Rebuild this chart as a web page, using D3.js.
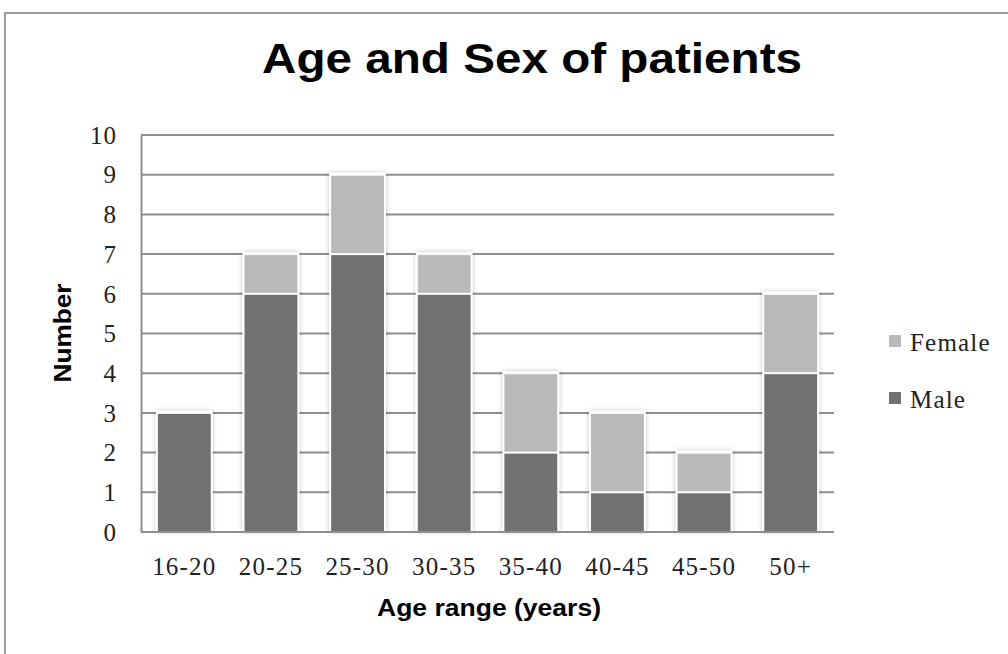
<!DOCTYPE html>
<html><head><meta charset="utf-8">
<script src="https://cdn.jsdelivr.net/npm/d3@7"></script>
<style>body{margin:0;background:#fff;} svg{display:block;}</style>
</head><body>
<svg id="chart" width="1008" height="654"></svg>
<script>
const categories = ["16-20","20-25","25-30","30-35","35-40","40-45","45-50","50+"];
const male = [3,6,7,6,2,1,1,4];
const female = [0,1,2,1,2,2,1,2];
const seriesNames = ["Male","Female"];
const yTicks = [0,1,2,3,4,5,6,7,8,9,10];

const svg = d3.select("#chart");
const colors = {Male:"#717171", Female:"#b9b9b9"};
const serif = "'Liberation Serif','DejaVu Serif',serif";
const sans = "'Liberation Sans',Arial,sans-serif";

// outer border
svg.append("path").attr("d","M1010,13 H5 V660").attr("fill","none").attr("stroke","#9a9a9a").attr("stroke-width",2);

const defs = svg.append("defs");
const f = defs.append("filter").attr("id","sh").attr("x","-20%").attr("y","-5%").attr("width","140%").attr("height","110%");
f.append("feGaussianBlur").attr("in","SourceAlpha").attr("stdDeviation",2.5).attr("result","b");
f.append("feComponentTransfer").attr("in","b").attr("result","b2").append("feFuncA").attr("type","linear").attr("slope",0.25);
const m = f.append("feMerge"); m.append("feMergeNode").attr("in","b2"); m.append("feMergeNode").attr("in","SourceGraphic");

const L=141, R=834, T=135, B=532;
const x = d3.scaleBand().domain(categories).range([L,R]).paddingInner(0.39).paddingOuter(0.195);
const y = d3.scaleLinear().domain([0,10]).range([B,T]);

// gridlines
svg.append("g").selectAll("line").data(yTicks.filter(d=>d>0)).join("line")
  .attr("x1",L).attr("x2",R).attr("y1",d=>y(d)).attr("y2",d=>y(d))
  .attr("stroke","#8e8e8e").attr("stroke-width",2);

// stacked bars
const data = categories.map((c,i)=>({cat:c, Male:male[i], Female:female[i]}));
const stack = d3.stack().keys(seriesNames)(data);
const gb = svg.append("g");
gb.selectAll("rect.bg").data(data).join("rect").attr("class","bg")
  .attr("x",d=>x(d.cat)-2).attr("width",x.bandwidth()+4)
  .attr("y",d=>y(d.Male+d.Female)-2).attr("height",d=>y(0)-y(d.Male+d.Female)+2)
  .attr("fill","#fff").attr("filter","url(#sh)");
stack.forEach(s=>{
  gb.selectAll(null).data(s.filter(d=>d[1]>d[0])).join("rect")
    .attr("x",d=>x(d.data.cat)).attr("width",x.bandwidth())
    .attr("y",d=>y(d[1])+1).attr("height",d=>y(d[0])-y(d[1])-2)
    .attr("fill",colors[s.key]);
});

// axes
const yAxis = d3.axisLeft(y).tickValues(yTicks).tickSize(0).tickPadding(24).tickFormat(d3.format("d"));
const gy = svg.append("g").attr("transform",`translate(${L},0)`).call(yAxis);
gy.select(".domain").attr("stroke","#8e8e8e").attr("stroke-width",2);
gy.selectAll("text").attr("font-family",serif).attr("font-size",25).attr("fill","#222").attr("dy","0.33em").attr("letter-spacing","1px");

const xAxis = d3.axisBottom(x).tickSize(0);
const gx = svg.append("g").attr("transform",`translate(0,${B})`).call(xAxis);
gx.select(".domain").attr("stroke","#8e8e8e").attr("stroke-width",2).attr("d",`M${L},0H${R}`);
gx.selectAll("text").attr("font-family",serif).attr("font-size",25).attr("fill","#222")
  .attr("letter-spacing","1.2px").attr("y",43).attr("dy",0);

// titles
svg.append("text").attr("x",532).attr("y",73).attr("text-anchor","middle")
  .attr("font-family",sans).attr("font-weight","bold").attr("font-size",42).attr("fill","#000")
  .attr("textLength",540).attr("lengthAdjust","spacingAndGlyphs")
  .text("Age and Sex of patients");
svg.append("text").attr("x",489).attr("y",616).attr("text-anchor","middle")
  .attr("font-family",sans).attr("font-weight","bold").attr("font-size",23).attr("fill","#000")
  .attr("textLength",224).attr("lengthAdjust","spacingAndGlyphs")
  .text("Age range (years)");
svg.append("text").attr("transform","translate(71,333) rotate(-90)").attr("text-anchor","middle")
  .attr("font-family",sans).attr("font-weight","bold").attr("font-size",23).attr("fill","#000")
  .attr("textLength",99).attr("lengthAdjust","spacingAndGlyphs")
  .text("Number");

// legend
const legendItems = ["Female","Male"];
const lg = svg.append("g").selectAll("g").data(legendItems).join("g")
  .attr("transform",(d,i)=>`translate(889,${341+i*57})`);
lg.append("rect").attr("x",0).attr("y",-6).attr("width",12).attr("height",12).attr("fill",d=>colors[d]);
lg.append("text").attr("x",21).attr("y",10).attr("font-family",serif).attr("font-size",25).attr("fill","#222").attr("letter-spacing","1.2px").text(d=>d);
</script>
</body></html>
